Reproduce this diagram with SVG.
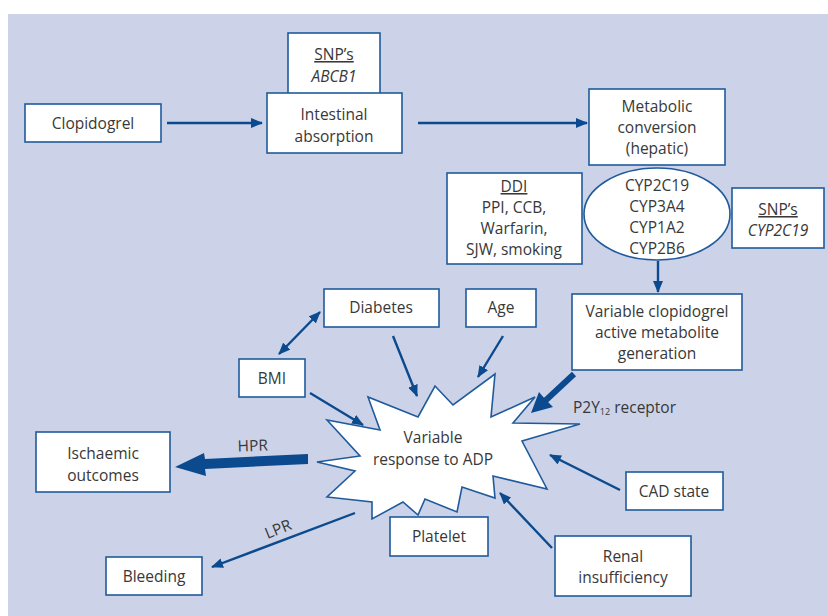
<svg xmlns="http://www.w3.org/2000/svg" width="828" height="616" viewBox="0 0 828 616">
<style>
.box{fill:#fff;stroke:#1f5b9c;stroke-width:1.6}
.t{font-family:"Open Sans","Noto Sans","Liberation Sans",sans-serif;font-size:15.5px;fill:#383838;text-anchor:middle}
.ts{font-family:"Open Sans","Noto Sans","Liberation Sans",sans-serif;font-size:15.5px;fill:#383838;text-anchor:start}
.c{stroke:#0b4a8e;stroke-width:2.4;fill:none}
</style>
<defs>
<marker id="ah" viewBox="0 0 12 10" refX="11" refY="5" markerWidth="12" markerHeight="10" markerUnits="userSpaceOnUse" orient="auto-start-reverse">
<path d="M0,0 L12,5 L0,10 z" fill="#0b4a8e"/>
</marker>
</defs>
<rect x="0" y="0" width="828" height="616" fill="#fff"/>
<rect x="8" y="14" width="820" height="602" fill="#ccd2e7"/>

<g id="connectors">
<line class="c" x1="167" y1="123" x2="262" y2="123" marker-end="url(#ah)"/>
<line class="c" x1="418" y1="123" x2="587" y2="123" marker-end="url(#ah)"/>
<line class="c" x1="658" y1="261" x2="658" y2="292" marker-end="url(#ah)"/>
<line class="c" x1="279" y1="354" x2="320" y2="312" marker-start="url(#ah)" marker-end="url(#ah)"/>
<line class="c" x1="393" y1="336" x2="417" y2="396" marker-end="url(#ah)"/>
<line class="c" x1="503" y1="336" x2="478" y2="377" marker-end="url(#ah)"/>
<line class="c" x1="310" y1="393" x2="363" y2="425" marker-end="url(#ah)"/>
<line class="c" x1="620" y1="490" x2="550" y2="455" marker-end="url(#ah)"/>
<line class="c" x1="552" y1="548" x2="500" y2="493" marker-end="url(#ah)"/>
<line class="c" x1="355" y1="513" x2="212" y2="567" marker-end="url(#ah)"/>
<line x1="574" y1="374" x2="545" y2="401" stroke="#0b4a8e" stroke-width="6"/>
<polygon points="531,413 539,392 545,399 553,407" fill="#0b4a8e"/>
<polygon points="308,454 308,464 205,469 206,476 175,467 204,453 205,459" fill="#0b4a8e"/>
<text class="t" x="253" y="451" transform="rotate(-2 253 451)">HPR</text>
<text class="t" x="280" y="534" transform="rotate(-22 280 534)">LPR</text>
</g>

<g id="snp-abcb1">
<rect class="box" x="288" y="33" width="92" height="62"/>
<text class="t" x="334" y="60" text-decoration="underline">SNP’s</text>
<text class="t" x="334" y="82" font-style="italic">ABCB1</text>
</g>
<g id="clopidogrel">
<rect class="box" x="25" y="104" width="136" height="38"/>
<text class="t" x="93" y="129">Clopidogrel</text>
</g>
<g id="intestinal">
<rect class="box" x="267" y="93" width="135" height="60"/>
<text class="t" x="334" y="120">Intestinal</text>
<text class="t" x="334" y="142">absorption</text>
</g>
<g id="metabolic">
<rect class="box" x="589" y="89" width="136" height="76"/>
<text class="t" x="657" y="112">Metabolic</text>
<text class="t" x="657" y="133">conversion</text>
<text class="t" x="657" y="154">(hepatic)</text>
</g>
<g id="ddi">
<rect class="box" x="447" y="173" width="135" height="91"/>
<text class="t" x="514" y="192" text-decoration="underline">DDI</text>
<text class="t" x="514" y="213">PPI, CCB,</text>
<text class="t" x="514" y="234">Warfarin,</text>
<text class="t" x="514" y="255">SJW, smoking</text>
</g>
<g id="cyp">
<ellipse cx="657" cy="214" rx="73" ry="46" fill="#fff" stroke="#1f5b9c" stroke-width="1.6"/>
<text class="t" x="657" y="191">CYP2C19</text>
<text class="t" x="657" y="212">CYP3A4</text>
<text class="t" x="657" y="233">CYP1A2</text>
<text class="t" x="657" y="254">CYP2B6</text>
</g>
<g id="snp-cyp2c19">
<rect class="box" x="732" y="188" width="92" height="60"/>
<text class="t" x="778" y="215" text-decoration="underline">SNP’s</text>
<text class="t" x="778" y="236" font-style="italic">CYP2C19</text>
</g>
<g id="active-metabolite">
<rect class="box" x="572" y="294" width="170" height="76"/>
<text class="t" x="657" y="317">Variable clopidogrel</text>
<text class="t" x="657" y="338">active metabolite</text>
<text class="t" x="657" y="359">generation</text>
</g>
<g id="diabetes">
<rect class="box" x="324" y="289" width="115" height="38"/>
<text class="t" x="381" y="313">Diabetes</text>
</g>
<g id="age">
<rect class="box" x="466" y="289" width="70" height="38"/>
<text class="t" x="501" y="313">Age</text>
</g>
<g id="bmi">
<rect class="box" x="239" y="359" width="66" height="38"/>
<text class="t" x="272" y="384">BMI</text>
</g>
<g id="response">
<polygon points="435,386 453,405 495,374 491,417 535,397 513,423 580,424 522,441 547,489 493,476 495,498 462,487 457,512 425,499 418,515 403,502 372,519 372,502 327,497 355,471 317,462 360,456 327,420 380,430 368,397 418,417" fill="#fff" stroke="#1f5b9c" stroke-width="1.6"/>
<text class="t" x="433" y="443">Variable</text>
<text class="t" x="433" y="465">response to ADP</text>
</g>
<g id="p2y12">
<text class="ts" x="573" y="413">P2Y<tspan font-size="9" dy="2">12</tspan><tspan dy="-2"> receptor</tspan></text>
</g>
<g id="ischaemic">
<rect class="box" x="36" y="432" width="134" height="60"/>
<text class="t" x="103" y="459">Ischaemic</text>
<text class="t" x="103" y="481">outcomes</text>
</g>
<g id="cad">
<rect class="box" x="626" y="472" width="97" height="38"/>
<text class="t" x="674" y="497">CAD state</text>
</g>
<g id="platelet">
<rect class="box" x="390" y="517" width="98" height="39"/>
<text class="t" x="439" y="542">Platelet</text>
</g>
<g id="renal">
<rect class="box" x="555" y="536" width="136" height="60"/>
<text class="t" x="623" y="562">Renal</text>
<text class="t" x="623" y="583">insufficiency</text>
</g>
<g id="bleeding">
<rect class="box" x="106" y="557" width="96" height="38"/>
<text class="t" x="154" y="582">Bleeding</text>
</g>
</svg>
